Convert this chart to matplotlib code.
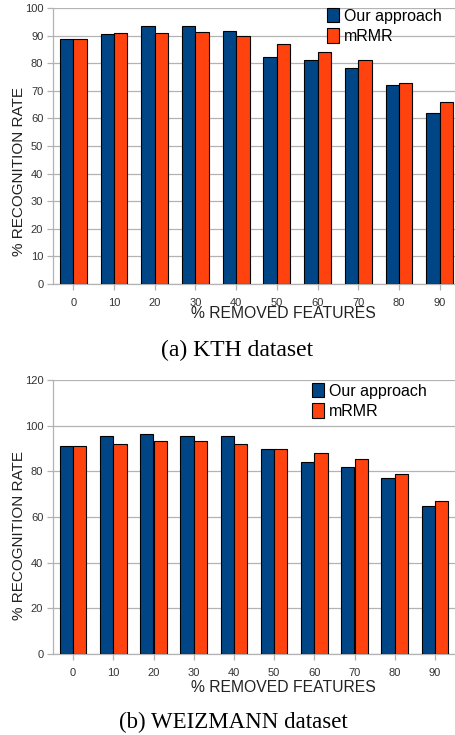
import numpy as np
import matplotlib
matplotlib.use('Agg')
import matplotlib.pyplot as plt

removed = ['0', '10', '20', '30', '40', '50', '60', '70', '80', '90']

kth_ours = [88.7, 90.5, 93.3, 93.3, 91.6, 82.4, 81.1, 78.2, 72.0, 62.0]
kth_mrmr = [88.7, 91.0, 91.0, 91.3, 90.0, 87.1, 84.1, 81.1, 72.9, 65.9]

weiz_ours = [90.9, 95.4, 96.5, 95.4, 95.4, 90.0, 83.9, 82.0, 77.2, 64.9]
weiz_mrmr = [90.9, 92.1, 93.4, 93.4, 92.1, 90.0, 88.0, 85.2, 78.9, 66.8]

BLUE = '#004586'
ORANGE = '#ff420e'
GRID = '#b3b3b3'

plt.rcParams['font.family'] = ['Liberation Sans', 'DejaVu Sans']

W, H = 456, 735
fig = plt.figure(figsize=(W / 100, H / 100), dpi=100)


def px_axes(left, top, right, bottom):
    return fig.add_axes([left / W, 1 - bottom / H, (right - left) / W, (bottom - top) / H])


def draw(ax, ours, mrmr, ymax, ystep, leg_xy):
    x = np.arange(len(removed))
    w = 0.33
    ax.bar(x - w / 2, ours, w, color=BLUE, edgecolor='black', linewidth=0.8,
           label='Our approach', zorder=3)
    ax.bar(x + w / 2, mrmr, w, color=ORANGE, edgecolor='black', linewidth=0.8,
           label='mRMR', zorder=3)
    ax.set_xlim(-0.5, 9.5)
    ax.set_ylim(0, ymax)
    ax.set_yticks(np.arange(0, ymax + 1, ystep))
    ax.set_xticks(x)
    ax.set_xticklabels(removed)
    ax.yaxis.grid(True, color=GRID, linewidth=0.9, zorder=0)
    for s in ['top', 'right']:
        ax.spines[s].set_visible(False)
    for s in ['left', 'bottom']:
        ax.spines[s].set_color(GRID)
        ax.spines[s].set_linewidth(0.9)
    ax.tick_params(axis='both', colors=GRID, labelcolor='#333333', labelsize=8,
                   length=4, width=0.9, pad=3)
    ax.tick_params(axis='x', pad=6)
    ax.legend(loc='upper left', bbox_to_anchor=leg_xy, bbox_transform=fig.transFigure,
              frameon=False, fontsize=11.5, handlelength=0.75, handleheight=1.0,
              handletextpad=0.3, labelspacing=0.3, borderaxespad=0, borderpad=0)


ax1 = px_axes(53, 8, 460, 284)
draw(ax1, kth_ours, kth_mrmr, 100, 10, (327 / W, 1 - 8 / H))
fig.text(19 / W, 1 - 172 / H, '% RECOGNITION RATE', rotation=90, ha='center',
         va='center', fontsize=11, color='#222222')
fig.text(283 / W, 1 - 314 / H, '% REMOVED FEATURES', ha='center', va='center',
         fontsize=11.3, color='#222222')
fig.text(237 / W, 1 - 350 / H, '(a) KTH dataset', ha='center', va='center',
         fontsize=17, family='Liberation Serif')

ax2 = px_axes(53, 380, 455, 654)
draw(ax2, weiz_ours, weiz_mrmr, 120, 20, (312 / W, 1 - 383 / H))
fig.text(19 / W, 1 - 536 / H, '% RECOGNITION RATE', rotation=90, ha='center',
         va='center', fontsize=11, color='#222222')
fig.text(283 / W, 1 - 687 / H, '% REMOVED FEATURES', ha='center', va='center',
         fontsize=11.3, color='#222222')
fig.text(233 / W, 1 - 722 / H, '(b) WEIZMANN dataset', ha='center', va='center',
         fontsize=16.5, family='Liberation Serif')

fig.savefig('out.png', dpi=100)
